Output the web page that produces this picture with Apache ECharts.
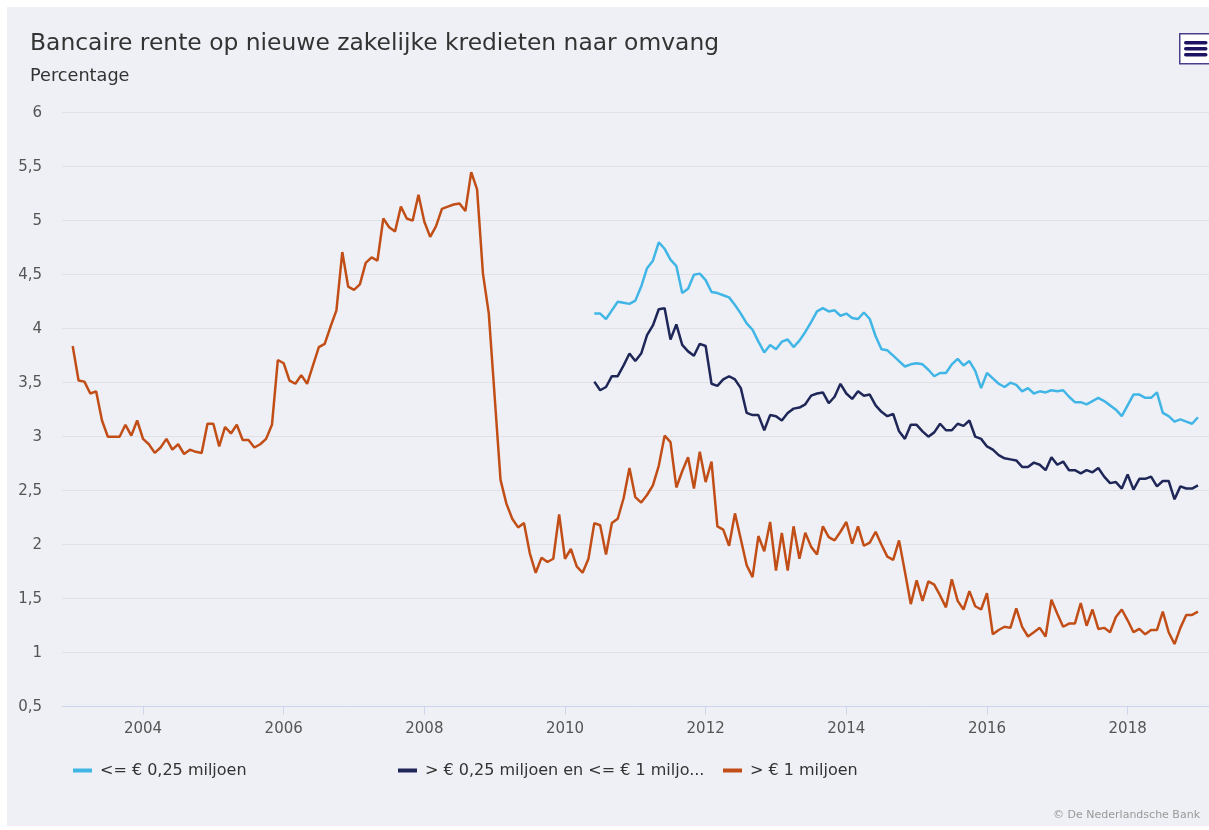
<!DOCTYPE html>
<html>
<head>
<meta charset="utf-8">
<script src="https://cdn.jsdelivr.net/npm/echarts@6/dist/echarts.min.js"></script>
<style>
  html, body { margin: 0; padding: 0; background: #ffffff; }
  #chart { position: absolute; left: 7px; top: 7px; width: 1202px; height: 819px; background: #eff0f5; }
</style>
</head>
<body>
<div id="chart"></div>
<script>
// reeksnamen
var reeksNamen = ['<= € 0,25 miljoen', '> € 0,25 miljoen en <= € 1 miljoen', '> € 1 miljoen'];

// maandcijfers, <= 0,25 mln vanaf juni 2010
var kleinStart = [2010, 5];
var klein = [
  4.14, 4.14, 4.09, 4.17, 4.25, 4.24, 4.23,
  4.26, 4.39, 4.56, 4.63, 4.80, 4.74, 4.64, 4.58, 4.33, 4.37, 4.50, 4.51,
  4.45, 4.34, 4.33, 4.31, 4.29, 4.22, 4.14, 4.05, 3.99, 3.88, 3.78, 3.85,
  3.81, 3.88, 3.90, 3.83, 3.89, 3.97, 4.06, 4.16, 4.19, 4.16, 4.17, 4.12,
  4.14, 4.10, 4.09, 4.15, 4.09, 3.93, 3.81, 3.80, 3.75, 3.70, 3.65, 3.67,
  3.68, 3.67, 3.62, 3.56, 3.59, 3.59, 3.67, 3.72, 3.66, 3.70, 3.61, 3.45,
  3.59, 3.54, 3.49, 3.46, 3.50, 3.48, 3.42, 3.45, 3.40, 3.42, 3.41, 3.43,
  3.42, 3.43, 3.37, 3.32, 3.32, 3.30, 3.33, 3.36, 3.33, 3.29, 3.25, 3.19,
  3.29, 3.39, 3.39, 3.36, 3.36, 3.41, 3.22, 3.19, 3.14, 3.16, 3.14, 3.12,
  3.18
];

// > 0,25 mln en <= 1 mln, vanaf juni 2010
var middenStart = [2010, 5];
var midden = [
  3.51, 3.43, 3.46, 3.56, 3.56, 3.66, 3.77,
  3.70, 3.77, 3.94, 4.03, 4.18, 4.19, 3.90, 4.04, 3.85, 3.79, 3.75, 3.86,
  3.84, 3.49, 3.47, 3.53, 3.56, 3.53, 3.45, 3.22, 3.20, 3.20, 3.06, 3.20,
  3.19, 3.15, 3.22, 3.26, 3.27, 3.30, 3.38, 3.40, 3.41, 3.31, 3.37, 3.49,
  3.40, 3.35, 3.42, 3.38, 3.39, 3.29, 3.23, 3.19, 3.21, 3.05, 2.98, 3.11,
  3.11, 3.05, 3.00, 3.04, 3.12, 3.06, 3.06, 3.12, 3.10, 3.15, 3.00, 2.98,
  2.91, 2.88, 2.83, 2.80, 2.79, 2.78, 2.72, 2.72, 2.76, 2.74, 2.69, 2.81,
  2.74, 2.77, 2.69, 2.69, 2.66, 2.69, 2.67, 2.71, 2.63, 2.57, 2.58, 2.52,
  2.65, 2.51, 2.61, 2.61, 2.63, 2.54, 2.59, 2.59, 2.42, 2.54, 2.52, 2.52,
  2.55
];

// > 1 mln, vanaf januari 2003
var grootStart = [2003, 0];
var groot = [
  3.84, 3.52, 3.51, 3.40, 3.42, 3.15, 3.00, 3.00, 3.00, 3.11, 3.01, 3.15,
  2.98, 2.93, 2.85, 2.90, 2.98, 2.88, 2.93, 2.84, 2.88, 2.86, 2.85, 3.12,
  3.12, 2.91, 3.09, 3.03, 3.11, 2.97, 2.97, 2.90, 2.93, 2.98, 3.11, 3.71,
  3.68, 3.52, 3.49, 3.57, 3.49, 3.66, 3.83, 3.86, 4.02, 4.17, 4.71, 4.39,
  4.36, 4.41, 4.61, 4.66, 4.63, 5.02, 4.94, 4.90, 5.13, 5.02, 5.00, 5.24,
  4.99, 4.85, 4.95, 5.11, 5.13, 5.15, 5.16, 5.09, 5.45, 5.29, 4.51, 4.14,
  3.37, 2.60, 2.38, 2.24, 2.16, 2.20, 1.92, 1.74, 1.88, 1.84, 1.87, 2.28,
  1.87, 1.96, 1.80, 1.74, 1.87, 2.20, 2.18, 1.91, 2.20, 2.24, 2.43, 2.71,
  2.44, 2.39, 2.46, 2.55, 2.73, 3.01, 2.95, 2.53, 2.68, 2.81, 2.52, 2.86,
  2.58, 2.77, 2.17, 2.14, 1.99, 2.29, 2.05, 1.81, 1.70, 2.08, 1.94, 2.21,
  1.76, 2.11, 1.76, 2.17, 1.87, 2.11, 1.98, 1.91, 2.17, 2.07, 2.04, 2.12,
  2.21, 2.01, 2.17, 1.99, 2.02, 2.12, 2.00, 1.89, 1.86, 2.04, 1.75, 1.45,
  1.67, 1.48, 1.66, 1.63, 1.53, 1.42, 1.68, 1.48, 1.40, 1.57, 1.43, 1.40,
  1.55, 1.17, 1.21, 1.24, 1.23, 1.41, 1.24, 1.15, 1.19, 1.23, 1.15, 1.49,
  1.36, 1.24, 1.27, 1.27, 1.46, 1.25, 1.40, 1.22, 1.23, 1.19, 1.33, 1.40,
  1.30, 1.19, 1.22, 1.17, 1.21, 1.21, 1.38, 1.19, 1.08, 1.23, 1.35, 1.35,
  1.38
];

// as-labels
var jaarLabels = [2004, 2006, 2008, 2010, 2012, 2014, 2016, 2018];

// maand -> decimaal jaar
function naarPunten(start, waarden) {
  return waarden.map(function (v, i) {
    return [start[0] + (start[1] + i) / 12, v];
  });
}

var myChart = echarts.init(document.getElementById('chart'));
var fontNaam = '"DejaVu Sans", Verdana, sans-serif';

var option = {
  animation: false,
  backgroundColor: '#eff0f5',
  textStyle: { fontFamily: fontNaam },
  title: [
    {
      text: 'Bancaire rente op nieuwe zakelijke kredieten naar omvang',
      left: 23, top: 23, padding: 0,
      textStyle: { fontSize: 23.4, fontWeight: 'normal', color: '#333333', lineHeight: 28, fontFamily: fontNaam }
    },
    {
      text: 'Percentage',
      left: 23, top: 59, padding: 0,
      textStyle: { fontSize: 17.7, fontWeight: 'normal', color: '#333333', lineHeight: 21, fontFamily: fontNaam }
    }
  ],
  grid: { left: 55, right: 0, top: 105.7, bottom: 119.3 },
  legend: {
    left: 66, top: 754,
    icon: 'rect',
    itemWidth: 19, itemHeight: 4, itemGap: 14,
    padding: 0,
    textStyle: {
      fontSize: 16, color: '#333333', lineHeight: 19, fontFamily: fontNaam,
      padding: [0, 0, 0, 3],
      width: 284, overflow: 'truncate', ellipsis: '...'
    },
    data: reeksNamen
  },
  xAxis: {
    type: 'value',
    min: 2002.848, max: 2019.157,
    splitLine: { show: false },
    axisLine: { show: true, lineStyle: { color: '#ccd6eb', width: 1 } },
    axisTick: { show: true, length: 8, lineStyle: { color: '#ccd6eb' }, customValues: jaarLabels },
    axisLabel: {
      customValues: jaarLabels, margin: 15,
      fontSize: 15, color: '#555555', fontFamily: fontNaam,
      formatter: function (v) { return String(v); }
    }
  },
  yAxis: {
    type: 'value',
    min: 0.5, max: 6, interval: 0.5,
    axisLine: { show: false },
    axisTick: { show: false },
    splitLine: { lineStyle: { color: '#e0e1e7', width: 1 } },
    axisLabel: {
      margin: 20, fontSize: 15, color: '#555555', fontFamily: fontNaam,
      formatter: function (v) { return String(v).replace('.', ','); }
    }
  },
  series: [
    {
      name: reeksNamen[0], type: 'line', showSymbol: false,
      data: naarPunten(kleinStart, klein),
      lineStyle: { width: 2.5, color: '#41b6e6' }, itemStyle: { color: '#41b6e6' }
    },
    {
      name: reeksNamen[1], type: 'line', showSymbol: false,
      data: naarPunten(middenStart, midden),
      lineStyle: { width: 2.5, color: '#1e2758' }, itemStyle: { color: '#1e2758' }
    },
    {
      name: reeksNamen[2], type: 'line', showSymbol: false,
      data: naarPunten(grootStart, groot),
      lineStyle: { width: 2.5, color: '#c24e17' }, itemStyle: { color: '#c24e17' }
    }
  ],
  graphic: [
    // menuknop rechtsboven
    {
      type: 'group', left: 1172, top: 26,
      children: [
        { type: 'rect', shape: { x: 0, y: 0, width: 32, height: 30 }, style: { fill: '#ffffff', stroke: '#4a3f8c', lineWidth: 1.5 } },
        { type: 'line', shape: { x1: 6, y1: 9, x2: 26, y2: 9 }, style: { stroke: '#1c1462', lineWidth: 3.5, lineCap: 'round' } },
        { type: 'line', shape: { x1: 6, y1: 15, x2: 26, y2: 15 }, style: { stroke: '#1c1462', lineWidth: 3.5, lineCap: 'round' } },
        { type: 'line', shape: { x1: 6, y1: 21, x2: 26, y2: 21 }, style: { stroke: '#1c1462', lineWidth: 3.5, lineCap: 'round' } }
      ]
    },
    {
      type: 'text', right: 9, top: 803,
      style: { text: '© De Nederlandsche Bank', fontSize: 11, fill: '#999999', fontFamily: fontNaam }
    }
  ]
};

myChart.setOption(option);
</script>
</body>
</html>
